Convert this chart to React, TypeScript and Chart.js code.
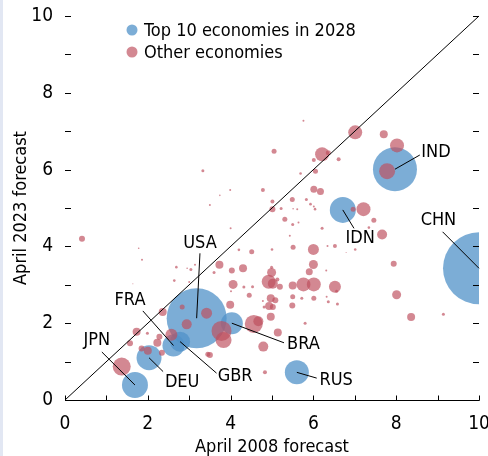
import React, { useEffect, useRef } from 'react';
import { Chart, registerables } from 'chart.js';
Chart.register(...registerables);

const FONT = "'DejaVu Sans Condensed', 'DejaVu Sans', sans-serif";

// Top 10 economies in 2028
const topCodes = ['USA', 'CHN', 'IND', 'IDN', 'BRA', 'RUS', 'JPN', 'DEU', 'GBR', 'FRA'];
const topX2008 = [3.18, 10.0, 7.97, 6.71, 4.03, 5.6, 1.69, 2.03, 2.78, 2.62];
const topY2023 = [2.13, 3.43, 6.01, 4.95, 2.0, 0.72, 0.39, 1.1, 1.52, 1.42];
const topSize = [30, 36, 22, 13, 11, 12, 13, 12.5, 10, 11];

// Label anchors (data units) and leader-line ends
const labelX = [3.26, 9.02, 8.96, 7.13, 5.76, 6.55, 0.77, 2.83, 4.11, 1.57];
const labelY = [4.09, 4.69, 6.45, 4.22, 1.44, 0.52, 1.56, 0.47, 0.61, 2.6];
const leaderX = [3.26, 9.12, 8.57, 6.98, 5.29, 6.08, 0.89, 2.37, 3.66, 1.88];
const leaderY = [3.82, 4.38, 6.38, 4.47, 1.49, 0.57, 1.25, 0.74, 0.7, 2.32];

// Other economies
const otherX2008 = [
  5.05, 3.33, 3.99, 3.74, 3.5, 4.78, 5.01, 5.01, 5.22, 5.31,
  5.76, 7.01, 7.7, 8.02, 7.78, 6.21, 6.36, 6.01, 6.61, 5.69,
  6.05, 6.01, 6.17, 5.49, 5.83, 5.93, 6.01, 6.04, 5.61, 5.51,
  6.96, 7.21, 7.46, 0.41, 1.78, 1.86, 2.69, 2.95, 3.04, 3.14,
  2.64, 3.0, 1.64, 2.83, 4.0, 5.5, 5.64, 6.21, 5.43, 4.51,
  4.2, 5.0, 5.51, 6.0, 6.34, 6.52, 3.73, 4.03, 4.3, 3.6,
  4.99, 4.99, 6.0, 5.9, 6.31, 4.06, 4.92, 5.02, 5.13, 5.19,
  5.5, 5.76, 6.01, 6.52, 4.32, 4.53, 4.45, 4.01, 3.99, 4.97,
  5.08, 4.93, 5.02, 4.78, 4.81, 5.5, 5.72, 6.01, 6.36, 6.32,
  6.58, 6.56, 7.66, 7.34, 7.01, 6.79, 7.94, 8.01, 8.36, 9.14,
  2.36, 1.73, 1.99, 1.57, 1.85, 2.0, 2.28, 2.23, 2.57, 2.34,
  1.37, 2.94, 3.42, 3.45, 5.49, 4.56, 4.67, 4.97, 5.8, 3.78,
  3.83, 5.14, 4.79, 3.5, 4.83,
];
const otherY2023 = [
  6.48, 5.97, 5.47, 5.33, 5.08, 5.47, 5.17, 4.97, 4.99, 4.71,
  7.27, 6.97, 6.92, 6.63, 5.96, 6.4, 6.44, 6.25, 6.27, 5.9,
  5.96, 5.49, 5.43, 5.22, 5.22, 5.1, 5.04, 4.97, 4.97, 4.98,
  4.97, 4.97, 4.68, 4.2, 3.95, 3.65, 3.46, 3.43, 3.4, 3.52,
  3.11, 3.07, 3.03, 2.42, 4.47, 4.57, 4.62, 4.47, 4.28, 3.86,
  3.91, 3.92, 3.98, 3.92, 4.01, 4.01, 3.52, 3.37, 3.43, 3.32,
  3.46, 3.32, 3.53, 3.34, 3.37, 3.01, 3.08, 3.03, 3.14, 2.95,
  2.98, 3.01, 3.01, 2.95, 2.94, 2.95, 2.73, 2.83, 2.48, 2.65,
  2.6, 2.45, 2.42, 2.58, 2.42, 2.69, 2.65, 2.65, 2.56, 2.69,
  2.5, 2.83, 4.31, 4.49, 3.92, 3.84, 3.55, 2.74, 2.16, 2.23,
  2.29, 1.78, 1.74, 1.48, 1.34, 1.28, 1.65, 1.49, 1.7, 1.23,
  0.87, 1.97, 2.26, 1.19, 2.46, 1.98, 2.05, 2.17, 2.0, 1.8,
  1.56, 1.76, 1.39, 1.17, 0.72,
];
const otherSize = [
  2.5, 1.5, 1, 0.8, 1, 2, 2, 3, 1.5, 2.5,
  1, 7, 4, 7, 8, 7, 2.5, 2, 2, 1.3,
  2.5, 3.5, 3.5, 2.5, 1.5, 1.3, 1, 1.3, 1, 0.8,
  2.5, 7, 2.5, 3, 0.8, 1, 1.3, 0.8, 1.5, 1,
  1.3, 1, 0.5, 2.5, 1, 1.5, 1, 1.5, 1, 2.5,
  1.3, 1.3, 2.5, 5.5, 1, 2, 4, 3, 4, 1.5,
  1.5, 4.5, 4.5, 3.5, 1, 4.5, 7, 5, 2, 3,
  4, 7, 7, 6, 1.5, 1.5, 2.5, 1, 4, 4,
  3, 4, 3, 1, 1.5, 2.5, 1.5, 2.5, 1.5, 1,
  1.5, 1.5, 5, 1.3, 1.3, 0.5, 3, 4.5, 4, 1.5,
  4, 4, 1.5, 3, 3, 4, 3, 4, 6, 3,
  9, 5, 5.5, 2.5, 3, 9, 5, 4, 1.5, 10,
  8, 4, 5, 3, 2,
];

const seriesNames = ['Top 10 economies in 2028', 'Other economies'];
const seriesColors = ['rgba(80,145,200,0.75)', 'rgba(190,80,95,0.68)'];

const decor = {
  id: 'decor',
  beforeDraw(chart: any) {
    const ctx = chart.ctx;
    ctx.save();
    ctx.fillStyle = '#e2e7f3';
    ctx.fillRect(0, 0, 3, chart.height);
    ctx.restore();
  },
  afterDatasetsDraw(chart: any) {
    const { ctx, chartArea } = chart;
    const xs = chart.scales.x;
    const ys = chart.scales.y;
    const X = (v: number) => xs.getPixelForValue(v);
    const Y = (v: number) => ys.getPixelForValue(v);
    ctx.save();
    ctx.strokeStyle = '#000';
    ctx.lineWidth = 1;
    // 45-degree line
    ctx.beginPath();
    ctx.moveTo(X(0), Y(0));
    ctx.lineTo(X(10), Y(10));
    ctx.stroke();
    // bottom axis line
    const b = Math.round(chartArea.bottom) + 0.5;
    ctx.beginPath();
    ctx.moveTo(chartArea.left, b);
    ctx.lineTo(chartArea.right + 0.5, b);
    ctx.stroke();
    // ticks
    ctx.beginPath();
    for (let v = 0; v <= 10; v++) {
      const px = Math.round(X(v)) + 0.5;
      ctx.moveTo(px, b);
      ctx.lineTo(px, b - 5);
    }
    for (let v = 1; v <= 10; v++) {
      const py = Math.round(Y(v)) + 0.5;
      ctx.moveTo(chartArea.left, py);
      ctx.lineTo(chartArea.left + 6, py);
      ctx.moveTo(chartArea.right - 6, py);
      ctx.lineTo(chartArea.right, py);
    }
    ctx.stroke();
    // leader lines
    ctx.beginPath();
    for (let i = 0; i < topCodes.length; i++) {
      ctx.moveTo(X(topX2008[i]), Y(topY2023[i]));
      ctx.lineTo(X(leaderX[i]), Y(leaderY[i]));
    }
    ctx.stroke();
    // labels
    ctx.fillStyle = '#000';
    ctx.font = `18px ${FONT}`;
    ctx.textAlign = 'center';
    ctx.textBaseline = 'middle';
    for (let i = 0; i < topCodes.length; i++) {
      ctx.fillText(topCodes[i], X(labelX[i]), Y(labelY[i]));
    }
    // legend
    ctx.font = `18px ${FONT}`;
    ctx.textAlign = 'left';
    chart.data.datasets.forEach((ds: any, i: number) => {
      const cy = chartArea.top + 14 + i * 22;
      const cx = chartArea.left + 67;
      ctx.fillStyle = ds.backgroundColor;
      ctx.beginPath();
      ctx.arc(cx, cy, 5.5, 0, Math.PI * 2);
      ctx.fill();
      ctx.fillStyle = '#000';
      ctx.fillText(ds.label, cx + 12, cy + 1);
    });
    ctx.restore();
  },
};

export default function App() {
  const ref = useRef<HTMLCanvasElement | null>(null);
  useEffect(() => {
    if (!ref.current) return;
    const chart = new Chart(ref.current, {
      type: 'bubble',
      data: {
        datasets: [
          {
            label: seriesNames[0],
            data: topCodes.map((_, i) => ({ x: topX2008[i], y: topY2023[i], r: topSize[i] })),
            backgroundColor: seriesColors[0],
            borderWidth: 0,
            order: 1,
            clip: 0,
          },
          {
            label: seriesNames[1],
            data: otherX2008.map((_, i) => ({ x: otherX2008[i], y: otherY2023[i], r: otherSize[i] })),
            backgroundColor: seriesColors[1],
            borderWidth: 0,
            order: 0,
            clip: 0,
          },
        ],
      },
      options: {
        animation: false,
        responsive: false,
        devicePixelRatio: 1,
        layout: { autoPadding: false, padding: { top: 16, right: 0, left: 0, bottom: 0 } },
        plugins: { legend: { display: false }, tooltip: { enabled: false } },
        elements: { point: { hoverRadius: 0 } },
        scales: {
          x: {
            type: 'linear',
            min: 0,
            max: 10,
            grid: { display: false },
            border: { display: false },
            ticks: { stepSize: 2, color: '#000', font: { family: FONT, size: 19 }, padding: 5, maxRotation: 0 },
            title: { display: true, text: 'April 2008 forecast', color: '#000', font: { family: FONT, size: 18, lineHeight: 1 }, padding: 0 },
            afterFit: (s: any) => { s.height = 56; s.paddingRight = 9; s.paddingLeft = 0; },
          },
          y: {
            type: 'linear',
            min: 0,
            max: 10,
            grid: { display: false },
            border: { display: false },
            ticks: { stepSize: 2, color: '#000', font: { family: FONT, size: 19 }, padding: 4 },
            title: { display: true, text: 'April 2023 forecast', color: '#000', font: { family: FONT, size: 18, lineHeight: 1 }, padding: { top: 12, bottom: 12 } },
            afterFit: (s: any) => { s.width = 65; },
          },
        },
      },
      plugins: [decor],
    });
    return () => chart.destroy();
  }, []);
  return (
    <div style={{ position: 'fixed', left: 0, top: 0, width: 488, height: 456, background: '#fff' }}>
      <canvas ref={ref} width={488} height={456} style={{ display: 'block' }} />
    </div>
  );
}
